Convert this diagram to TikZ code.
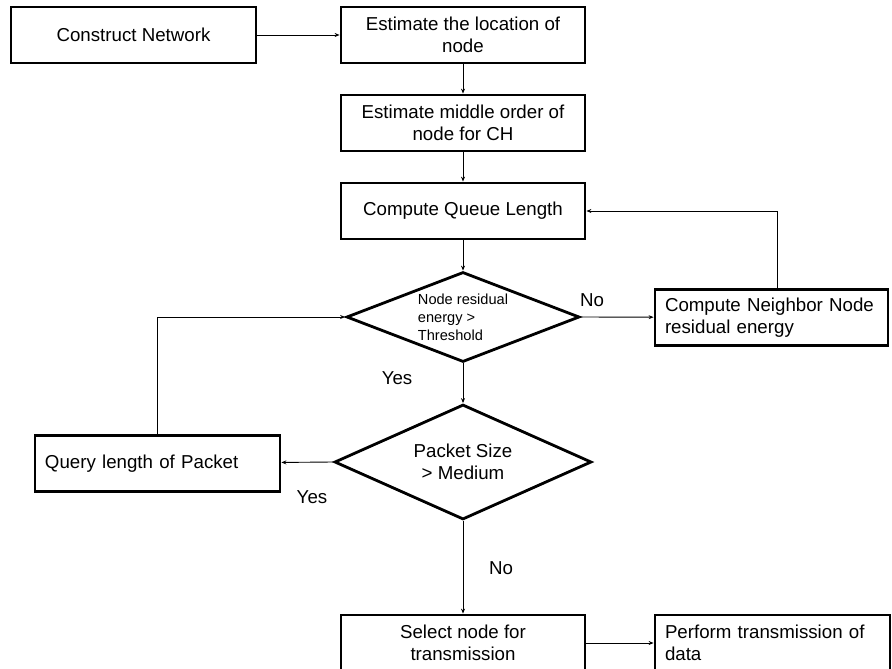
\documentclass[tikz,border=0pt]{standalone}
\usepackage{fontspec}
\setmainfont{Liberation Sans}
\usetikzlibrary{shapes.geometric,arrows.meta,positioning}

\tikzset{
  stepbox/.style={draw,line width=2.8pt,shape=rectangle,minimum height=56pt,
    inner sep=0pt,align=center,font=\fontsize{18.7}{22.5}\selectfont},
  leftbox/.style={stepbox,align=left,inner xsep=10pt},
  test/.style={draw,line width=2.8pt,shape=diamond,inner sep=0pt},
  flow/.style={line width=0.9pt,-{Stealth[length=5pt,width=4pt]}},
  answer/.style={font=\fontsize{18.7}{22.5}\selectfont},
}

\begin{document}
\begin{tikzpicture}[x=1pt,y=-1pt]
%
\useasboundingbox (0,0) rectangle (892,669);
%
\node[stepbox,minimum width=245pt] (cn) at (133.5,35) {Construct Network};
\node[stepbox,minimum width=244pt] (loc) at (463,35) {Estimate the location of\\node};
\node[stepbox,minimum width=244pt] (mid) at (463,123) {Estimate middle order of\\node for CH};
\node[stepbox,minimum width=244pt] (queue) at (463,211) {Compute Queue Length};
\node[test,aspect=2.6,minimum width=233pt,minimum height=90pt,align=left,
  font=\fontsize{14.6}{18}\selectfont] (energy) at (463,317) {Node residual\\energy >\\Threshold};
\node[leftbox,text width=213pt] (nb) at (771.5,317.5) {Compute Neighbor Node\\residual energy};
\node[test,aspect=2.2,minimum width=257pt,minimum height=115pt,align=center,
  font=\fontsize{18.7}{22.5}\selectfont] (size) at (463,462) {Packet Size\\> Medium};
\node[leftbox,text width=225pt] (query) at (157.5,463.5) {Query length of Packet};
\node[stepbox,minimum width=244pt] (sel) at (463,643) {Select node for\\transmission};
\node[leftbox,text width=215pt] (tx) at (772.5,643) {Perform transmission of\\data};
%
\node[answer] (no1) at (592,300) {No};
\node[answer] (yes1) at (397,378) {Yes};
\node[answer] (yes2) at (312,497) {Yes};
\node[answer] (no2) at (501,568) {No};
%
\draw[flow] (cn) -- (loc);
\draw[flow] (loc) -- (mid);
\draw[flow] (mid) -- (queue);
\draw[flow] (queue) -- (energy);
\draw[flow] (energy.east) -- (nb);
\draw[flow] ([xshift=5.5pt]nb.north) |- (queue.east);
\draw[flow] (energy.south) -- (size.north);
\draw[flow] (size.west) -- (query);
\draw[flow] (query.north) |- (energy.west);
\draw[flow] (size.south) -- (sel);
\draw[flow] (sel) -- (tx);
%
\end{tikzpicture}
\end{document}
